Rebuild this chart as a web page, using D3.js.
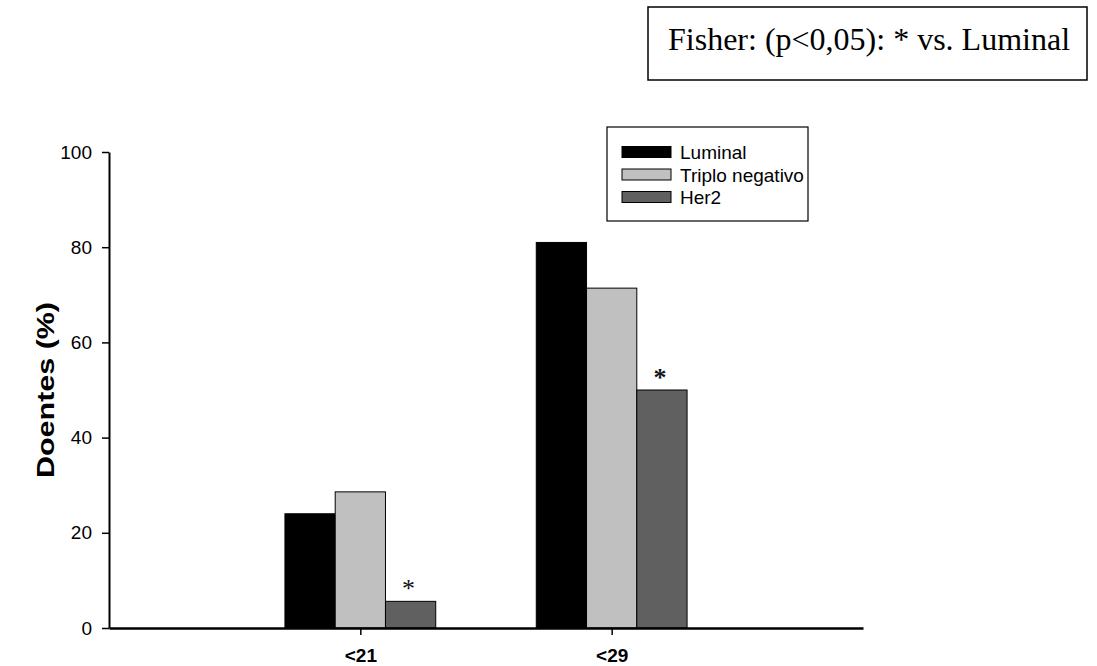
<!DOCTYPE html>
<html>
<head>
<meta charset="utf-8">
<script src="https://cdn.jsdelivr.net/npm/d3@7"></script>
<style>
  html, body { margin: 0; padding: 0; background: #fff; }
  svg { display: block; }
</style>
</head>
<body>
<svg id="chart" width="1097" height="666"></svg>
<script>
// Age groups and the share of patients (%) in each subtype
const categories = ["<21", "<29"];
const seriesNames = ["Luminal", "Triplo negativo", "Her2"];
const luminal = [24.0, 81.0];
const triploNegativo = [28.6, 71.4];
const her2 = [5.6, 50.0];
const significant = [[false, false], [false, false], [true, true]]; // * vs. Luminal
const yTicks = [0, 20, 40, 60, 80, 100];
const colors = ["#000000", "#c0c0c0", "#606060"];

const series = [luminal, triploNegativo, her2];

const svg = d3.select("#chart");
const x0 = 109, x1 = 863, yBase = 628, yTop = 152;
const sans = "'Liberation Sans', Arial, sans-serif";
const serif = "'Liberation Serif', 'Times New Roman', serif";

// Category positions sit at 1 and 2 on a 0..3 axis
const x = d3.scaleLinear().domain([0, 3]).range([x0, x1]);
const y = d3.scaleLinear().domain([0, 100]).range([yBase, yTop]);
const barW = 0.2;

// Bars
series.forEach((vals, s) => {
  svg.append("g").selectAll("rect")
    .data(vals)
    .join("rect")
    .attr("x", (d, i) => x(i + 1 + (s - 1.5) * barW))
    .attr("width", x(barW) - x(0))
    .attr("y", d => y(d))
    .attr("height", d => y(0) - y(d))
    .attr("fill", colors[s])
    .attr("stroke", "#000")
    .attr("stroke-width", 1);
});

// Significance stars above the Her2 bars
series.forEach((vals, s) => {
  vals.forEach((v, i) => {
    if (!significant[s][i]) return;
    svg.append("text")
      .attr("x", x(i + 1 + (s - 1) * barW) - 2)
      .attr("y", y(v) - 4)
      .attr("text-anchor", "middle")
      .attr("font-family", serif)
      .attr("font-size", 26)
      .attr("font-weight", i === 1 ? "bold" : "normal")
      .attr("fill", "#111")
      .text("*");
  });
});

// Y axis
const yAxis = d3.axisLeft(y).tickValues(yTicks).tickSize(7).tickPadding(10).tickSizeOuter(0);
const gy = svg.append("g").attr("transform", `translate(${x0},0)`).call(yAxis);
gy.select(".domain").attr("stroke", "#000").attr("stroke-width", 2);
gy.selectAll(".tick line").attr("stroke", "#000").attr("stroke-width", 1.5);
gy.selectAll(".tick text")
  .attr("font-family", sans)
  .attr("font-size", 19)
  .attr("fill", "#000");

// X axis
const xAxis = d3.axisBottom(x).tickValues([1, 2]).tickFormat(d => categories[d - 1])
  .tickSize(7).tickPadding(14).tickSizeOuter(0);
const gx = svg.append("g").attr("transform", `translate(0,${yBase})`).call(xAxis);
gx.select(".domain").attr("stroke", "#000").attr("stroke-width", 2.5);
gx.selectAll(".tick line").attr("stroke", "#000").attr("stroke-width", 1.5);
gx.selectAll(".tick text")
  .attr("font-family", sans)
  .attr("font-size", 19)
  .attr("font-weight", "bold")
  .attr("fill", "#000");

// Y axis title
svg.append("text")
  .attr("transform", `translate(54,${(yBase + yTop) / 2}) rotate(-90)`)
  .attr("text-anchor", "middle")
  .attr("font-family", sans)
  .attr("font-size", 23)
  .attr("font-weight", "bold")
  .attr("textLength", 176)
  .attr("lengthAdjust", "spacingAndGlyphs")
  .attr("fill", "#000")
  .text("Doentes (%)");

// Legend
const lg = svg.append("g");
lg.append("rect")
  .attr("x", 607).attr("y", 127).attr("width", 201).attr("height", 94)
  .attr("fill", "#fff").attr("stroke", "#000").attr("stroke-width", 1.2);
seriesNames.forEach((name, s) => {
  const cy = 152 + s * 22.5;
  lg.append("rect")
    .attr("x", 622).attr("y", cy - 5.5).attr("width", 49).attr("height", 11)
    .attr("fill", colors[s]).attr("stroke", "#000").attr("stroke-width", 1);
  lg.append("text")
    .attr("x", 680).attr("y", cy + 7)
    .attr("font-family", sans)
    .attr("font-size", 19)
    .attr("fill", "#000")
    .text(name);
});

// Statistical note
svg.append("rect")
  .attr("x", 648).attr("y", 7).attr("width", 439).attr("height", 73)
  .attr("fill", "#fff").attr("stroke", "#000").attr("stroke-width", 1.5);
svg.append("text")
  .attr("x", 668).attr("y", 50)
  .attr("font-family", serif)
  .attr("font-size", 32)
  .attr("fill", "#000")
  .text("Fisher: (p<0,05): * vs. Luminal");
</script>
</body>
</html>
